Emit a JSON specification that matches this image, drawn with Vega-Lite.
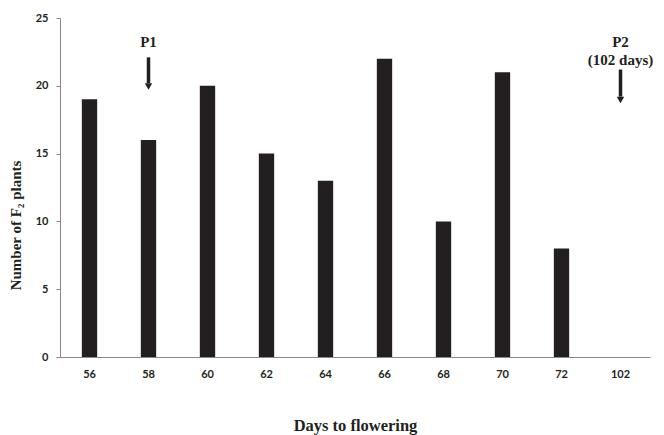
{
  "$schema": "https://vega.github.io/schema/vega-lite/v6.json",
  "width": 590,
  "height": 339,
  "autosize": {"type": "none"},
  "padding": {"left": 60, "top": 18, "right": 14, "bottom": 78},
  "background": "white",
  "config": {"view": {"stroke": null}},
  "datasets": {
    "bars": [
      {"day": "56", "count": 19},
      {"day": "58", "count": 16},
      {"day": "60", "count": 20},
      {"day": "62", "count": 15},
      {"day": "64", "count": 13},
      {"day": "66", "count": 22},
      {"day": "68", "count": 10},
      {"day": "70", "count": 21},
      {"day": "72", "count": 8}
    ],
    "arrows": [
      {"day": "58", "top": 22.1, "bottom": 20.2, "head": 19.95},
      {"day": "102", "top": 21.2, "bottom": 19.2, "head": 18.95}
    ],
    "labels": [
      {"day": "58", "y": 23.2, "text": "P1"},
      {"day": "102", "y": 23.2, "text": "P2"},
      {"day": "102", "y": 21.9, "text": "(102 days)"}
    ]
  },
  "encoding": {
    "x": {
      "field": "day",
      "type": "nominal",
      "scale": {"domain": ["56","58","60","62","64","66","68","70","72","102"], "paddingInner": 0.74, "paddingOuter": 0.37},
      "axis": {
        "title": "Days to flowering",
        "labelAngle": 0,
        "ticks": false,
        "labelPadding": 11,
        "labelFont": "Lato",
        "labelFontWeight": "bold",
        "labelFontSize": 11,
        "labelColor": "#231f20",
        "domainColor": "#888888",
        "titleFont": "Liberation Serif",
        "titleFontSize": 16.5,
        "titleFontWeight": "bold",
        "titleColor": "#231f20",
        "titlePadding": 38
      }
    }
  },
  "layer": [
    {
      "data": {"name": "bars"},
      "mark": {"type": "bar", "color": "#231f20"},
      "encoding": {
        "y": {
          "field": "count",
          "type": "quantitative",
          "scale": {"domain": [0, 25], "nice": false},
          "axis": {
            "title": "Number of F₂ plants",
            "values": [0, 5, 10, 15, 20, 25],
            "grid": false,
            "tickSize": 4,
            "tickColor": "#888888",
            "domainColor": "#888888",
            "labelPadding": 8,
            "labelFont": "Lato",
            "labelFontWeight": "bold",
            "labelFontSize": 11,
            "labelColor": "#231f20",
            "titleFont": "Liberation Serif",
            "titleFontSize": 15,
            "titleFontWeight": "bold",
            "titleColor": "#231f20",
            "titlePadding": 12,
            "titleY": 207
          }
        }
      }
    },
    {
      "data": {"name": "arrows"},
      "mark": {"type": "rule", "color": "#231f20", "strokeWidth": 3.5},
      "encoding": {
        "y": {"field": "top", "type": "quantitative", "scale": {"domain": [0, 25], "nice": false}},
        "y2": {"field": "bottom"}
      }
    },
    {
      "data": {"name": "arrows"},
      "mark": {"type": "point", "shape": "triangle-down", "filled": true, "color": "#231f20", "size": 55, "opacity": 1},
      "encoding": {
        "y": {"field": "head", "type": "quantitative", "scale": {"domain": [0, 25], "nice": false}}
      }
    },
    {
      "data": {"name": "labels"},
      "mark": {"type": "text", "font": "Liberation Serif", "fontWeight": "bold", "fontSize": 15, "color": "#231f20"},
      "encoding": {
        "y": {"field": "y", "type": "quantitative", "scale": {"domain": [0, 25], "nice": false}},
        "text": {"field": "text"}
      }
    }
  ]
}
